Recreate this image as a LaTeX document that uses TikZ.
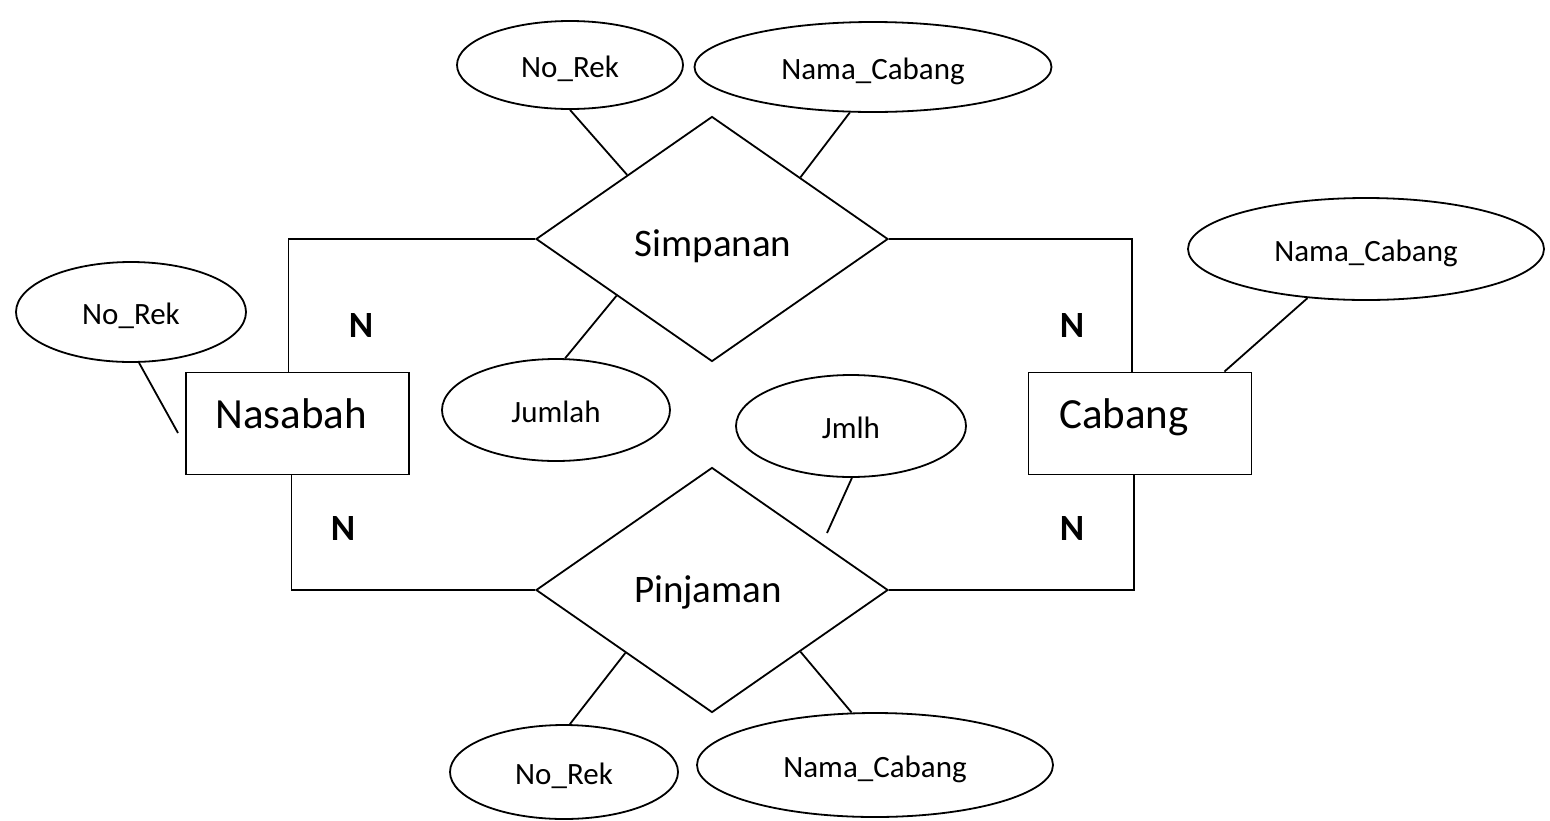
\documentclass[tikz,border=0pt]{standalone}
\usepackage{fontspec}
\setmainfont{Carlito}
\usetikzlibrary{shapes.geometric,calc}
\begin{document}
\begin{tikzpicture}[x=1pt,y=-1pt,line width=1.8pt,
  entity/.style={draw, rectangle, minimum width=223pt, minimum height=102pt, inner sep=0pt},
  rel/.style={draw, diamond, minimum width=352pt, minimum height=245pt, inner sep=0pt},
  attr/.style={draw, ellipse, inner sep=0pt, text height=28pt, text depth=4pt, font=\fontsize{31}{36}\selectfont},
  etext/.style={font=\fontsize{43}{50}\selectfont, inner sep=0pt, anchor=base},
  rtext/.style={font=\fontsize{39}{46}\selectfont, inner sep=0pt, anchor=base},
  card/.style={font=\bfseries\fontsize{37}{44}\selectfont, inner sep=0pt}]
\useasboundingbox (0,0) rectangle (1550,820);

% entities
\node[entity] (nas) at (297.5,423.5) {};
\node[etext] (nast) at (291,428) {Nasabah};
\node[entity] (cab) at (1140,423.5) {};
\node[etext] (cabt) at (1124,428) {Cabang};

% relationships
\node[rel] (sim) at (712,239) {};
\node[rtext] (simt) at (713,256) {Simpanan};
\node[rel] (pin) at (712,590) {};
\node[rtext] (pint) at (708,602) {Pinjaman};

% attributes
\node[attr, minimum width=226pt, minimum height=88pt] (nr1) at (570,65) {No\_Rek};
\node[attr, minimum width=357pt, minimum height=90pt] (nc1) at (873,67) {Nama\_Cabang};
\node[attr, minimum width=356pt, minimum height=102pt] (nc2) at (1366,249) {Nama\_Cabang};
\node[attr, minimum width=230pt, minimum height=100pt] (nr2) at (131,312) {No\_Rek};
\node[attr, minimum width=228pt, minimum height=102pt] (jum) at (556,410) {Jumlah};
\node[attr, minimum width=230pt, minimum height=102pt] (jm) at (851,426) {Jmlh};
\node[attr, minimum width=228pt, minimum height=94pt] (nr3) at (564,772) {No\_Rek};
\node[attr, minimum width=356pt, minimum height=104pt] (nc3) at (875,765) {Nama\_Cabang};

% cardinalities
\node[card] (n1) at (361,325) {N};
\node[card] (n2) at (1072,325) {N};
\node[card] (n3) at (343,528) {N};
\node[card] (n4) at (1072,528) {N};

% relationship lines
\draw (sim.west) -| ($(nas.north)+(-9,0)$);
\draw (sim.east) -| ($(cab.north)+(-8,0)$);
\draw (pin.west) -| ($(nas.south)+(-6,0)$);
\draw (pin.east) -| ($(cab.south)+(-6,0)$);

% attribute lines
\coordinate (nasend) at (178,433);
\coordinate (jmend) at (827,533);
\draw (nr1.south) -- ($(sim.north)!0.48!(sim.west)$);
\draw (nc1.243) -- ($(sim.north)!0.5!(sim.east)$);
\draw (jum.80) -- ($(sim.south)!0.54!(sim.west)$);
\draw (jm.271) -- (jmend);
\draw (nr3.83) -- ($(pin.south)!0.49!(pin.west)$);
\draw (nc3.114) -- ($(pin.south)!0.5!(pin.east)$);
\draw (nr2.279) -- (nasend);
\draw (nc2.220) -- ($(cab.north east)+(-28,0)$);
\end{tikzpicture}
\end{document}
